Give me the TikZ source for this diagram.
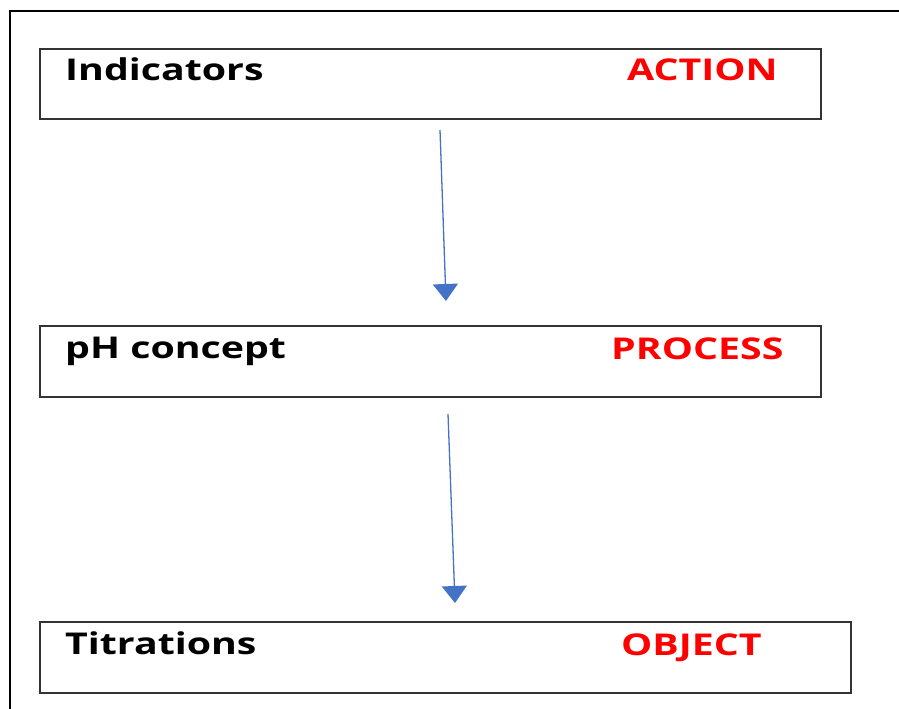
\documentclass[tikz,border=0pt]{standalone}
\usepackage{fontspec}
\setmainfont[FakeStretch=1.31]{Open Sans}
\usetikzlibrary{arrows.meta}
\definecolor{linkblue}{HTML}{4472C4}
\begin{document}
\begin{tikzpicture}[x=1pt,y=-1pt,
  stagebox/.style={draw=black!80,line width=1.3pt},
  stagename/.style={anchor=base west,inner sep=0pt,font=\fontsize{30}{36}\selectfont\bfseries,text=black},
  stagekind/.style={anchor=base west,inner sep=0pt,font=\fontsize{30}{36}\selectfont\bfseries,text=red},
  flow/.style={draw=linkblue,line width=1.3pt,-{Triangle[width=25pt,length=17pt]}}]
\useasboundingbox (0,0) rectangle (899,709);
% outer frame (top and left edges)
\draw[line width=2pt] (10,709) -- (10,11) -- (899,11);
% stage boxes
\draw[stagebox] (40,49) rectangle (821,119);
\draw[stagebox] (40,326) rectangle (821,397);
\draw[stagebox] (40,622) rectangle (851,693);
\node[stagename] (n1) at (65,81) {Indicators};
\node[stagekind] (k1) at (627,81) {ACTION};
\node[stagename] (n2) at (65,358) {pH concept};
\node[stagekind] (k2) at (611,359) {PROCESS};
\node[stagename] (n3) at (65,654) {Titrations};
\node[stagekind] (k3) at (621,655) {OBJECT};
% connectors
\coordinate (a1) at (440,130);
\coordinate (b1) at (446,301);
\coordinate (a2) at (448,414);
\coordinate (b2) at (455,603);
\draw[flow] (a1) -- (b1);
\draw[flow] (a2) -- (b2);
\end{tikzpicture}
\end{document}
